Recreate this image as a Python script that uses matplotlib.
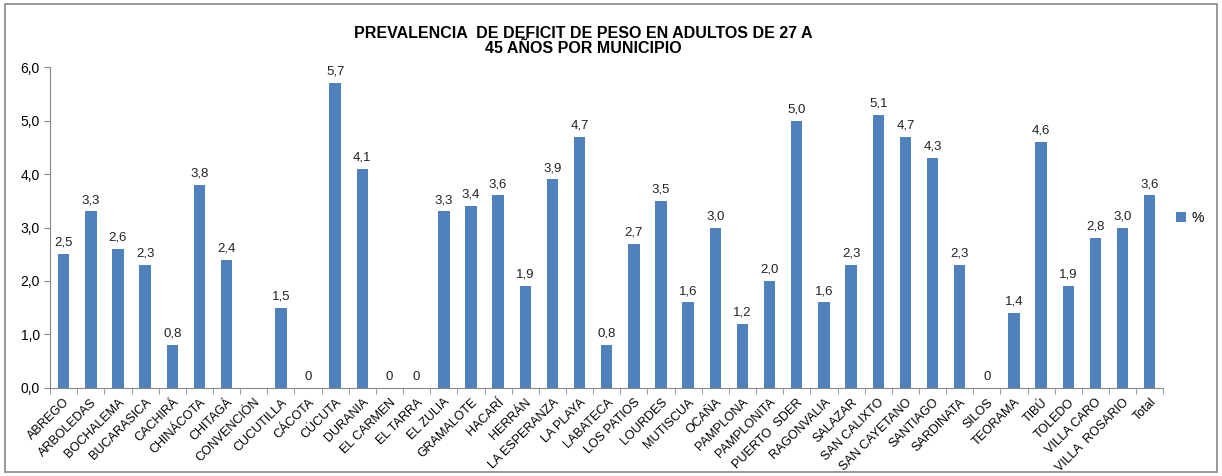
import matplotlib
matplotlib.use("Agg")
import matplotlib.pyplot as plt
import numpy as np
from matplotlib.patches import Rectangle

plt.rcParams['font.family'] = ['Liberation Sans', 'DejaVu Sans']

municipios = ['ABREGO', 'ARBOLEDAS', 'BOCHALEMA', 'BUCARASICA', 'CACHIRÁ', 'CHINÁCOTA',
              'CHITAGÁ', 'CONVENCIÓN', 'CUCUTILLA', 'CÁCOTA', 'CÚCUTA', 'DURANIA',
              'EL CARMEN', 'EL TARRA', 'EL ZULIA', 'GRAMALOTE', 'HACARÍ', 'HERRÁN',
              'LA ESPERANZA', 'LA PLAYA', 'LABATECA', 'LOS PATIOS', 'LOURDES', 'MUTISCUA',
              'OCAÑA', 'PAMPLONA', 'PAMPLONITA', 'PUERTO  SDER', 'RAGONVALIA', 'SALAZAR',
              'SAN CALIXTO', 'SAN CAYETANO', 'SANTIAGO', 'SARDINATA', 'SILOS', 'TEORAMA',
              'TIBÚ', 'TOLEDO', 'VILLA CARO', 'VILLA  ROSARIO', 'Total']
porcentaje = [2.5, 3.3, 2.6, 2.3, 0.8, 3.8, 2.4, np.nan, 1.5, 0, 5.7, 4.1,
              0, 0, 3.3, 3.4, 3.6, 1.9, 3.9, 4.7, 0.8, 2.7, 3.5, 1.6,
              3.0, 1.2, 2.0, 5.0, 1.6, 2.3, 5.1, 4.7, 4.3, 2.3, 0, 1.4,
              4.6, 1.9, 2.8, 3.0, 3.6]

fig = plt.figure(figsize=(12.22, 4.76), dpi=100)
fig.patches.append(Rectangle((0.004, 0.008), 0.992, 0.984, transform=fig.transFigure,
                             fill=False, edgecolor='#888888', linewidth=1.2))
ax = fig.add_axes([0.041, 0.185, 0.911, 0.674])

x = np.arange(len(municipios))
vals = np.array(porcentaje, dtype=float)
bars = ax.bar(x, np.nan_to_num(vals), width=0.42, color='#4F81BD', label='%')

for xi, v in zip(x, vals):
    if np.isnan(v):
        continue
    txt = '0' if v == 0 else f'{v:.1f}'.replace('.', ',')
    ax.text(xi, v + 0.1, txt, ha='center', va='bottom', fontsize=9.5, color='#222222')

ax.set_xlim(-0.5, len(municipios) - 0.5)
ax.set_ylim(0, 6)
ax.set_yticks(np.arange(0, 6.1, 1))
ax.set_yticklabels([f'{t:.1f}'.replace('.', ',') for t in np.arange(0, 6.1, 1)], fontsize=10)

ax.set_xticks(x)
ax.set_xticklabels(municipios, rotation=45, ha='right', rotation_mode='anchor', fontsize=9)
ax.tick_params(axis='x', length=0, pad=6)
ax.set_xticks(np.arange(-0.5, len(municipios), 1), minor=True)
ax.tick_params(axis='x', which='minor', length=4, color='#888888')
ax.tick_params(axis='y', length=4, color='#888888')

for s in ['top', 'right']:
    ax.spines[s].set_visible(False)
for s in ['left', 'bottom']:
    ax.spines[s].set_color('#888888')

fig.text(0.477, 0.914, 'PREVALENCIA  DE DEFICIT DE PESO EN ADULTOS DE 27 A\n45 AÑOS POR MUNICIPIO',
         ha='center', va='center', fontsize=11.5, fontweight='bold', linespacing=1.0)

ax.legend(loc='center left', bbox_to_anchor=(1.0, 0.53), frameon=False, fontsize=10,
          handlelength=0.7, handleheight=0.7, handletextpad=0.4)

fig.savefig('out.png', dpi=100)
